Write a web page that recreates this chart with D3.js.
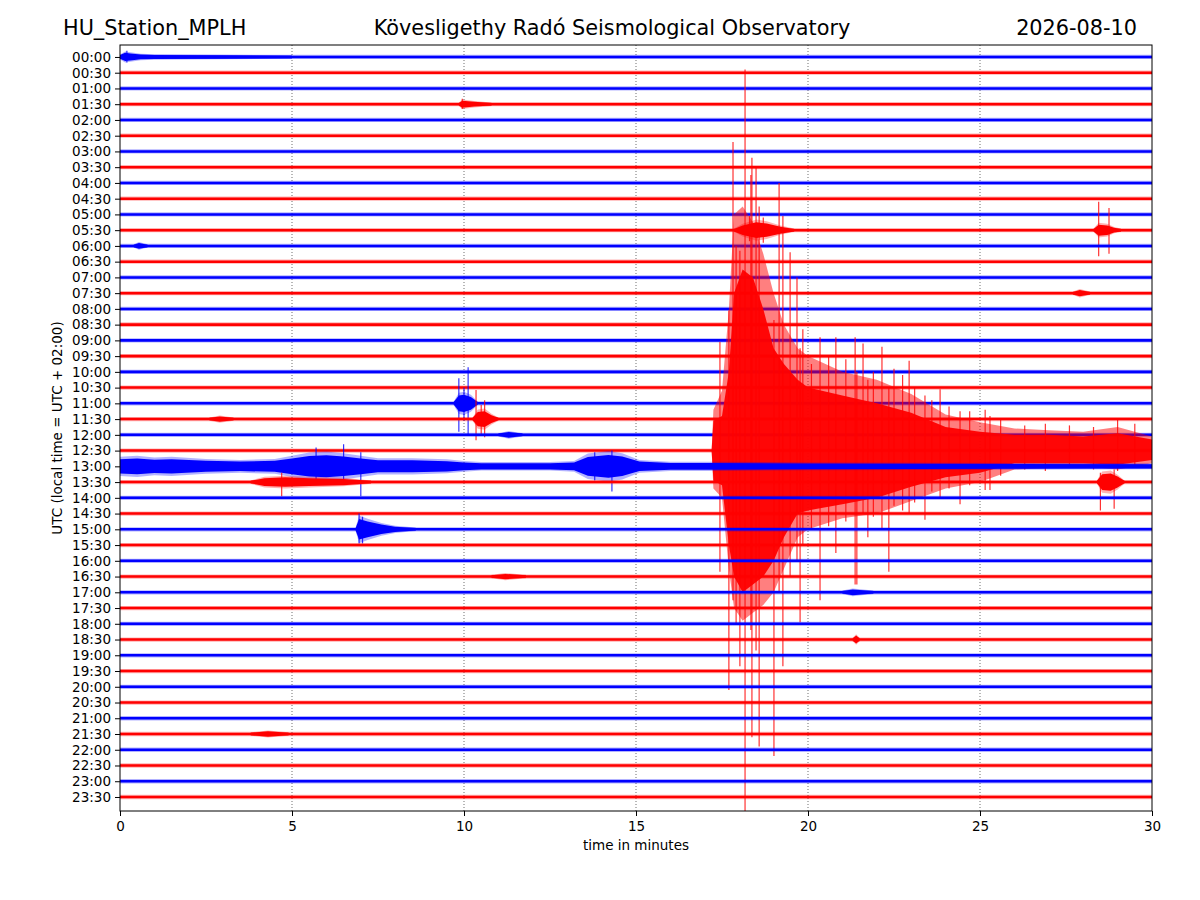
<!DOCTYPE html>
<html>
<head>
<meta charset="utf-8">
<script src="https://cdn.jsdelivr.net/npm/d3@7"></script>
<style>
  body { margin: 0; background: #fff; }
  text { font-family: "DejaVu Sans", sans-serif; }
</style>
</head>
<body>
<script>
// helicorder rows, one per half hour
var rowLabels = ["00:00","00:30","01:00","01:30","02:00","02:30","03:00","03:30",
  "04:00","04:30","05:00","05:30","06:00","06:30","07:00","07:30",
  "08:00","08:30","09:00","09:30","10:00","10:30","11:00","11:30",
  "12:00","12:30","13:00","13:30","14:00","14:30","15:00","15:30",
  "16:00","16:30","17:00","17:30","18:00","18:30","19:00","19:30",
  "20:00","20:30","21:00","21:30","22:00","22:30","23:00","23:30"]
var traceColors = ["#0000ff", "#ff0000"]
var minuteTicks = [0, 5, 10, 15, 20, 25, 30]
var gridTicks = [5, 10, 15, 20, 25]

// background noise half-width per row (in row units)
var noiseAmp = [0.08,0.08,0.08,0.08,0.08,0.08,0.08,0.08,
  0.08,0.08,0.08,0.08,0.08,0.08,0.08,0.08,
  0.08,0.09,0.08,0.08,0.08,0.08,0.08,0.08,
  0.08,0.08,0.09,0.08,0.08,0.08,0.08,0.08,
  0.08,0.08,0.08,0.08,0.08,0.08,0.08,0.08,
  0.08,0.08,0.08,0.08,0.08,0.08,0.08,0.08]

// local events: row, times (min), half-width envelope (row units)
var eventRows = [0, 3, 11, 11, 12, 15, 22, 23, 23, 24, 26, 27, 27, 30, 33, 34, 37, 43]
var eventTimes = [
  [0, 0.15, 0.3, 0.6, 1.0, 3.0, 5.0],
  [9.85, 9.95, 10.3, 10.8],
  [17.85, 18.1, 18.5, 18.8, 19.2, 19.6],
  [28.3, 28.45, 28.7, 28.9, 29.1],
  [0.4, 0.55, 0.8],
  [27.7, 27.9, 28.2],
  [9.7, 9.85, 10.0, 10.2, 10.4],
  [2.6, 2.9, 3.3],
  [10.25, 10.4, 10.6, 10.8, 11.0],
  [11.0, 11.3, 11.7],
  [0, 0.5, 1.0, 1.5, 2.5, 3.5, 4.5, 5.0, 5.5, 6.0, 6.5, 7.0, 7.5, 8.5, 9.5, 10.0, 10.5, 12.5, 13.2, 13.6, 14.2, 14.6, 15.1, 16.0, 17.2, 20.0, 30.0],
  [3.8, 4.2, 4.8, 5.5, 6.5, 7.3],
  [28.4, 28.55, 28.8, 29.0, 29.2],
  [6.85, 6.95, 7.2, 7.6, 8.0, 8.6],
  [10.8, 11.2, 11.8],
  [21.0, 21.3, 21.9],
  [21.3, 21.4, 21.5],
  [3.8, 4.3, 4.9]
]
var eventAmps = [
  [0.12, 0.26, 0.22, 0.15, 0.13, 0.11, 0.08],
  [0.08, 0.22, 0.15, 0.08],
  [0.08, 0.3, 0.5, 0.42, 0.22, 0.08],
  [0.08, 0.35, 0.3, 0.15, 0.08],
  [0.08, 0.18, 0.08],
  [0.08, 0.2, 0.08],
  [0.08, 0.5, 0.55, 0.4, 0.08],
  [0.08, 0.17, 0.08],
  [0.08, 0.45, 0.5, 0.25, 0.08],
  [0.08, 0.18, 0.08],
  [0.45, 0.5, 0.42, 0.45, 0.35, 0.3, 0.35, 0.5, 0.65, 0.7, 0.62, 0.5, 0.38, 0.38, 0.33, 0.25, 0.2, 0.2, 0.25, 0.6, 0.72, 0.62, 0.3, 0.22, 0.22, 0.18, 0.14],
  [0.08, 0.25, 0.3, 0.25, 0.2, 0.08],
  [0.08, 0.5, 0.55, 0.35, 0.08],
  [0.08, 0.65, 0.5, 0.3, 0.17, 0.08],
  [0.08, 0.17, 0.08],
  [0.08, 0.18, 0.08],
  [0.08, 0.25, 0.08],
  [0.08, 0.17, 0.08]
]

// the big earthquake on the 12:30 row
var quakeRow = 25
var quakeTimes     = [17.2, 17.25, 17.5, 17.7, 17.85, 18.1, 18.4, 18.7, 19.0, 19.3, 19.7, 20, 21, 22, 23, 24, 25, 26, 27, 28, 29, 30]
var quakeCoreUp    = [0.08, 1.9, 2.2, 5.0, 10.0, 11.5, 11.0, 9.0, 6.5, 5.5, 4.5, 4.0, 3.5, 3.0, 2.4, 1.5, 1.2, 1.0, 1.0, 0.9, 1.1, 0.7]
var quakeCoreDown  = [0.08, 1.9, 2.2, 6.0, 8.0, 9.0, 8.5, 8.0, 7.0, 5.5, 4.0, 3.8, 3.4, 3.0, 2.3, 1.7, 1.4, 0.8, 0.8, 0.8, 0.9, 0.6]
var quakeOuterUp   = [0.08, 2.6, 3.8, 9.0, 15.0, 15.5, 14.5, 12.5, 10.0, 8.0, 6.5, 6.0, 5.0, 4.5, 3.6, 2.3, 1.8, 1.4, 1.3, 1.2, 1.5, 0.9]
var quakeOuterDown = [0.08, 2.4, 3.0, 7.5, 10.0, 10.8, 10.3, 9.8, 9.0, 7.5, 5.5, 5.0, 4.3, 4.0, 3.2, 2.4, 2.0, 1.2, 1.1, 1.0, 1.2, 0.8]

// single large swings: [row, minute, up, down] in row units
var spikes = [
  [25, 17.44, 6.9, 7.7], [25, 17.70, 8.9, 15.2], [25, 17.82, 19.6, 9.5], [25, 17.91, 13.0, 11.0],
  [25, 18.02, 12.7, 13.7], [25, 18.17, 24.2, 22.9], [25, 18.34, 17.5, 11.4], [25, 18.37, 18.6, 18.2],
  [25, 18.49, 18.0, 12.7], [25, 18.58, 15.5, 18.8], [25, 19.01, 8.3, 19.4], [25, 19.16, 17.0, 9.0],
  [25, 19.27, 14.9, 13.7], [25, 19.48, 12.6, 8.0], [25, 19.68, 11.0, 7.0], [25, 19.77, 6.5, 10.9],
  [25, 19.85, 7.7, 6.0], [25, 20.1, 5.5, 5.0], [25, 20.35, 7.2, 9.5], [25, 20.6, 6.0, 4.8],
  [25, 20.81, 7.2, 6.5], [25, 21.1, 5.8, 4.5], [25, 21.37, 7.2, 8.5], [25, 21.42, 5.0, 8.5],
  [25, 21.6, 6.8, 4.0], [25, 21.74, 4.5, 5.5], [25, 21.9, 5.0, 4.2], [25, 22.15, 6.6, 5.0],
  [25, 22.35, 4.0, 7.7], [25, 22.5, 5.2, 3.5], [25, 22.75, 4.8, 3.8], [25, 22.94, 5.7, 4.0],
  [25, 23.1, 4.0, 3.3], [25, 23.40, 3.5, 4.4], [25, 23.6, 3.2, 2.6], [25, 23.84, 3.9, 3.0],
  [25, 24.1, 2.8, 2.4], [25, 24.42, 2.5, 3.4], [25, 24.7, 2.5, 2.2], [25, 25.15, 2.6, 2.5],
  [25, 25.29, 2.2, 2.5], [25, 25.6, 2.0, 1.6], [25, 26.3, 1.6, 1.2], [25, 26.9, 1.7, 1.3],
  [25, 27.6, 1.6, 1.1], [25, 28.3, 1.5, 1.2], [25, 29.0, 2.0, 1.3], [25, 29.5, 1.7, 1.0],
  [0, 0.2, 0.4, 0.35],
  [3, 9.95, 0.35, 0.3],
  [11, 18.3, 0.9, 0.7], [11, 18.7, 0.8, 0.8],
  [11, 28.45, 1.8, 1.65], [11, 28.75, 1.4, 1.5],
  [22, 9.85, 1.6, 1.8], [22, 10.0, 1.0, 1.1], [22, 10.12, 2.3, 2.0],
  [23, 10.35, 1.85, 1.35], [23, 10.5, 0.9, 1.0], [23, 10.6, 1.2, 1.15],
  [26, 5.7, 1.2, 1.0], [26, 6.5, 1.4, 1.0], [26, 7.0, 0.9, 1.9], [26, 13.8, 0.9, 0.9], [26, 14.3, 1.0, 1.6],
  [27, 4.7, 0.6, 0.9], [27, 28.5, 0.6, 1.8], [27, 28.9, 0.8, 1.7],
  [30, 6.95, 1.0, 0.9], [30, 7.05, 0.8, 0.9]
]

var width = 1200
var height = 900
var plotLeft = 120, plotRight = 1152, plotTop = 45, plotBottom = 811

var x = d3.scaleLinear().domain([0, 30]).range([plotLeft, plotRight])
var y = d3.scaleLinear().domain([-0.76, 47.89]).range([plotTop, plotBottom])

var svg = d3.select("body").append("svg")
  .attr("width", width)
  .attr("height", height)

svg.append("clipPath").attr("id", "plotclip")
  .append("rect")
  .attr("x", plotLeft).attr("y", plotTop)
  .attr("width", plotRight - plotLeft).attr("height", plotBottom - plotTop)

// dotted minute grid
svg.append("g").selectAll("line")
  .data(gridTicks)
  .enter().append("line")
  .attr("x1", function(d) { return x(d) }).attr("x2", function(d) { return x(d) })
  .attr("y1", plotTop).attr("y2", plotBottom)
  .attr("stroke", "#000")
  .attr("stroke-width", 0.8)
  .attr("stroke-dasharray", "1,2")
  .attr("opacity", 0.7)

var plot = svg.append("g").attr("clip-path", "url(#plotclip)")

function band(row, pts, scale) {
  // pts: [t, up, down]
  return d3.area()
    .x(function(d) { return x(d[0]) })
    .y0(function(d) { return y(row + d[2] * scale) })
    .y1(function(d) { return y(row - d[1] * scale) })(pts)
}

function drawBand(g, row, pts, color, halo) {
  g.append("path").attr("d", band(row, pts, halo)).attr("fill", color).attr("opacity", 0.3)
  g.append("path").attr("d", band(row, pts, 1)).attr("fill", color)
}

rowLabels.forEach(function(label, row) {
  var color = traceColors[row % 2]
  var g = plot.append("g").attr("class", "trace")

  drawBand(g, row, [[0, noiseAmp[row], noiseAmp[row]], [30, noiseAmp[row], noiseAmp[row]]], color, 1.7)

  eventRows.forEach(function(r, k) {
    if (r !== row) return
    var pts = eventTimes[k].map(function(t, j) { return [t, eventAmps[k][j], eventAmps[k][j]] })
    drawBand(g, row, pts, color, 1.35)
  })

  if (row === quakeRow) {
    var outer = quakeTimes.map(function(t, j) { return [t, quakeOuterUp[j], quakeOuterDown[j]] })
    var core = quakeTimes.map(function(t, j) { return [t, quakeCoreUp[j], quakeCoreDown[j]] })
    g.append("path").attr("d", band(row, outer, 1)).attr("fill", color).attr("opacity", 0.5)
    g.append("path").attr("d", band(row, core, 1)).attr("fill", color).attr("opacity", 0.95)
  }

  g.selectAll("line.spike")
    .data(spikes.filter(function(s) { return s[0] === row }))
    .enter().append("line")
    .attr("class", "spike")
    .attr("x1", function(d) { return x(d[1]) }).attr("x2", function(d) { return x(d[1]) })
    .attr("y1", function(d) { return y(row - d[2]) })
    .attr("y2", function(d) { return y(row + d[3]) })
    .attr("stroke", color)
    .attr("stroke-width", 1.2)
    .attr("opacity", 0.8)
})

// frame
svg.append("rect")
  .attr("x", plotLeft).attr("y", plotTop)
  .attr("width", plotRight - plotLeft).attr("height", plotBottom - plotTop)
  .attr("fill", "none").attr("stroke", "#000").attr("stroke-width", 1)

// axes
var yAxis = svg.append("g")
  .attr("transform", "translate(" + plotLeft + ",0)")
  .call(d3.axisLeft(y)
    .tickValues(rowLabels.map(function(d, i) { return i }))
    .tickFormat(function(i) { return rowLabels[i] })
    .tickSize(5).tickPadding(4))
var xAxis = svg.append("g")
  .attr("transform", "translate(0," + plotBottom + ")")
  .call(d3.axisBottom(x).tickValues(minuteTicks).tickFormat(d3.format("d")).tickSize(5).tickPadding(5))

;[yAxis, xAxis].forEach(function(a) {
  a.select(".domain").remove()
  a.attr("font-size", null).attr("font-family", null)
  a.selectAll("text").attr("font-size", 13.5).attr("fill", "#000")
  a.selectAll("line").attr("stroke", "#000")
})

svg.append("text")
  .attr("x", (plotLeft + plotRight) / 2).attr("y", 850)
  .attr("text-anchor", "middle").attr("font-size", 13.5)
  .text("time in minutes")

svg.append("text")
  .attr("transform", "translate(62," + (plotTop + plotBottom) / 2 + ") rotate(-90)")
  .attr("text-anchor", "middle").attr("font-size", 13.5)
  .text("UTC (local time = UTC + 02:00)")

// titles
svg.append("text").attr("x", 63).attr("y", 35)
  .attr("font-size", 20.8).text("HU_Station_MPLH")
svg.append("text").attr("x", 612).attr("y", 35)
  .attr("text-anchor", "middle").attr("font-size", 20.8)
  .text("Kövesligethy Radó Seismological Observatory")
svg.append("text").attr("x", 1137).attr("y", 35)
  .attr("text-anchor", "end").attr("font-size", 20.8)
  .text("2026-08-10")
</script>
</body>
</html>
